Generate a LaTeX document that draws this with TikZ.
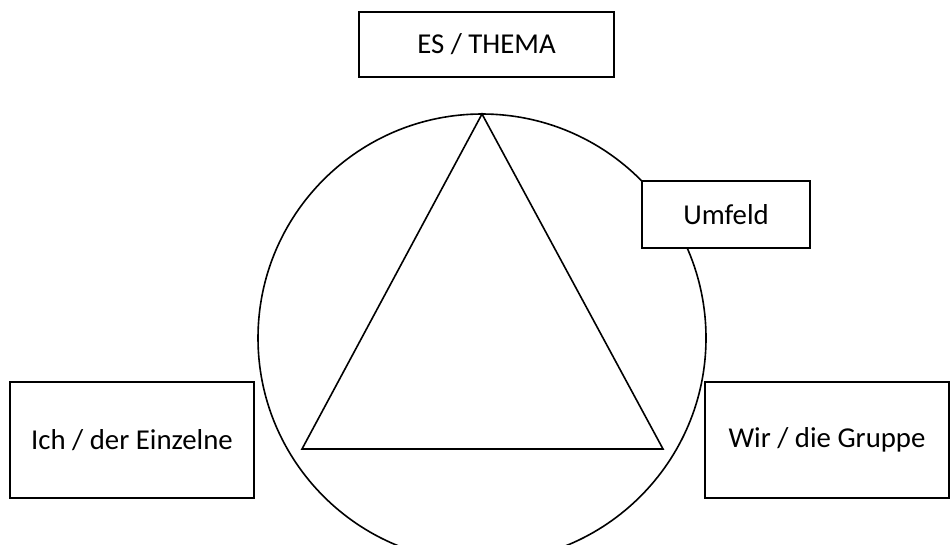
\documentclass[tikz,border=0pt]{standalone}
\usepackage{fontspec}
\setmainfont{Carlito}
\begin{document}
\begin{tikzpicture}[x=1pt,y=-1pt,
  box/.style={draw, line width=1.6pt, fill=white, inner sep=0pt, font=\fontsize{28.8}{34}\selectfont},
  ring/.style={draw, line width=1.6pt, circle, inner sep=0pt, minimum size=448pt},
  tri/.style={draw, line width=1.6pt, line join=miter}]
\useasboundingbox (0,0) rectangle (952,544);
\clip (0,0) rectangle (952,544);
\node[ring] (circ) at (482,338) {};
\coordinate (apex) at (482,114);
\coordinate (bl) at (302,449);
\coordinate (br) at (663,449);
\draw[tri] (apex) -- (bl) -- (br) -- cycle;
\node[box, minimum width=255pt, minimum height=65pt] (es) at (486.5,44.5) {ES / THEMA};
\node[box, minimum width=168pt, minimum height=67pt] (umfeld) at (726,214.5) {Umfeld};
\node[box, minimum width=244pt, minimum height=116pt] (ich) at (132,440) {Ich / der Einzelne};
\node[box, minimum width=244pt, minimum height=116pt] (wir) at (827,440) {Wir / die Gruppe};
\end{tikzpicture}
\end{document}
